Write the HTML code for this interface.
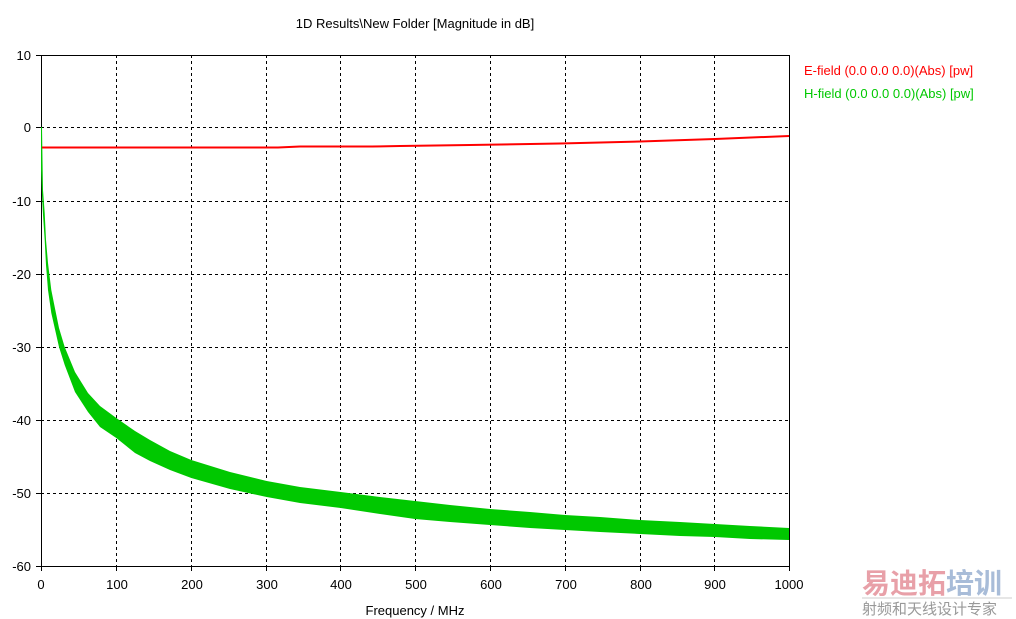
<!DOCTYPE html>
<html><head><meta charset="utf-8"><style>
html,body{margin:0;padding:0;background:#fff;}
svg{display:block;font-family:"Liberation Sans","Noto Sans CJK SC",sans-serif;}
</style></head><body>
<svg width="1016" height="619" viewBox="0 0 1016 619" xmlns="http://www.w3.org/2000/svg">
<rect width="1016" height="619" fill="#fff"/>
<text x="415" y="28" font-size="13" text-anchor="middle" fill="#000">1D Results\New Folder [Magnitude in dB]</text>
<g stroke="#000" stroke-width="1" stroke-dasharray="3,3" shape-rendering="crispEdges">
<line x1="116.5" y1="55" x2="116.5" y2="566"/>
<line x1="191.5" y1="55" x2="191.5" y2="566"/>
<line x1="266.5" y1="55" x2="266.5" y2="566"/>
<line x1="340.5" y1="55" x2="340.5" y2="566"/>
<line x1="415.5" y1="55" x2="415.5" y2="566"/>
<line x1="490.5" y1="55" x2="490.5" y2="566"/>
<line x1="565.5" y1="55" x2="565.5" y2="566"/>
<line x1="640.5" y1="55" x2="640.5" y2="566"/>
<line x1="714.5" y1="55" x2="714.5" y2="566"/>
<line x1="41" y1="127.5" x2="789" y2="127.5"/>
<line x1="41" y1="201.5" x2="789" y2="201.5"/>
<line x1="41" y1="274.5" x2="789" y2="274.5"/>
<line x1="41" y1="347.5" x2="789" y2="347.5"/>
<line x1="41" y1="420.5" x2="789" y2="420.5"/>
<line x1="41" y1="493.5" x2="789" y2="493.5"/>
</g>
<g stroke="#000" stroke-width="1" shape-rendering="crispEdges" fill="none">
<path d="M41.5 55.5H789.5V566.5H41.5Z"/>
<path d="M36 55.5h5M36 127.5h5M36 201.5h5M36 274.5h5M36 347.5h5M36 420.5h5M36 493.5h5M36 566.5h5"/>
<path d="M41.5 566v5M116.5 566v5M191.5 566v5M266.5 566v5M340.5 566v5M415.5 566v5M490.5 566v5M565.5 566v5M640.5 566v5M714.5 566v5M789.5 566v5"/>
</g>
<polygon fill="#00c800" points="41,127 42,127 42.5,160 43,190 44.7,213 46,240 48,263 51.3,290 54.7,307 59,328 64.7,347 75,372 88,393 100,406 116.3,418 135,431 150,440 170,451 191.3,460 230,472 266.7,481 300,487 340.7,492 380,497 415,501 450,505 490,509 530,512 565,515 600,517 640,520 680,522 715,524 750,526 789,528 789,540 750,539 715,537 680,536 640,534 600,532 565,530 530,528 490,525 450,522 415,519 380,514 340.7,508 300,503 266.7,497 230,489 191.3,478 170,470 150,461 135,453 116.3,438 100,427 88,412 75,392 64.7,365 59,347 54.7,328 51.3,313 48,290 46,265 44.7,240 43,215 42,195 41,170"/>
<polyline fill="none" stroke="#f00" stroke-width="2" points="42,147.5 200,147.5 278,147.5 300,146.5 372,146.5 400,146 470,145 560,143.5 640,141.5 715,139 789,136"/>
<g font-size="13" fill="#000" text-anchor="end">
<text x="31" y="60">10</text>
<text x="31" y="132">0</text>
<text x="31" y="206">-10</text>
<text x="31" y="279">-20</text>
<text x="31" y="352">-30</text>
<text x="31" y="425">-40</text>
<text x="31" y="498">-50</text>
<text x="31" y="571">-60</text>
</g>
<g font-size="13" fill="#000" text-anchor="middle">
<text x="41" y="589">0</text>
<text x="117" y="589">100</text>
<text x="192" y="589">200</text>
<text x="267" y="589">300</text>
<text x="341" y="589">400</text>
<text x="416" y="589">500</text>
<text x="491" y="589">600</text>
<text x="566" y="589">700</text>
<text x="641" y="589">800</text>
<text x="715" y="589">900</text>
<text x="789" y="589">1000</text>
<text x="415" y="615">Frequency / MHz</text>
</g>
<text x="804" y="75" font-size="13" fill="#f00">E-field (0.0 0.0 0.0)(Abs) [pw]</text>
<text x="804" y="98" font-size="13" fill="#00c800">H-field (0.0 0.0 0.0)(Abs) [pw]</text>
<text x="862" y="593" font-size="28" font-weight="bold" fill="#e8a0a8">易迪拓<tspan fill="#a8bcd8">培训</tspan></text>
<line x1="862" y1="598" x2="1012" y2="598" stroke="#ccc" stroke-width="1"/>
<text x="862" y="614" font-size="15" fill="#999">射频和天线设计专家</text>
</svg>
</body></html>
